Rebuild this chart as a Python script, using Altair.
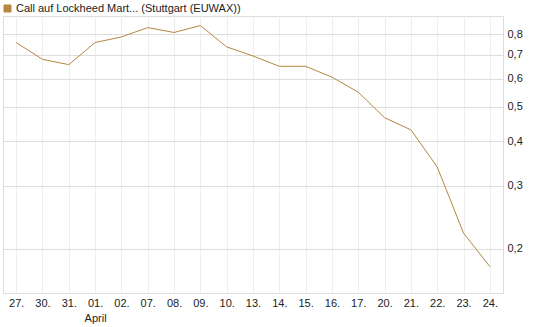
import altair as alt
import pandas as pd

dates = ["27.", "30.", "31.", "01.", "02.", "07.", "08.", "09.", "10.", "13.",
         "14.", "15.", "16.", "17.", "20.", "21.", "22.", "23.", "24."]
values = [0.758, 0.680, 0.657, 0.758, 0.786, 0.835, 0.809, 0.846, 0.737, 0.695,
          0.650, 0.650, 0.606, 0.550, 0.466, 0.431, 0.339, 0.221, 0.178]
series_name = "Call auf Lockheed Mart... (Stuttgart (EUWAX))"
y_ticks = [0.2, 0.3, 0.4, 0.5, 0.6, 0.7, 0.8]

line_color = "#b5873f"
font = "Liberation Sans"

df = pd.DataFrame({"date": dates, "value": values, "series": series_name})

chart = alt.Chart(df).mark_line(strokeWidth=1).encode(
    x=alt.X("date:N", sort=None, title=None,
            scale=alt.Scale(type="point", padding=0.5),
            axis=alt.Axis(labelAngle=0, ticks=False, domain=False,
                          grid=True, gridColor="#eeeeee",
                          labelPadding=4, labelBaseline="top",
                          labelLineHeight=15,
                          labelExpr="datum.value == '01.' ? ['01.', 'April'] : datum.value")),
    y=alt.Y("value:Q", title=None,
            scale=alt.Scale(type="log", domain=[0.15, 0.9], nice=False, zero=False),
            axis=alt.Axis(orient="right", values=y_ticks, ticks=False, domain=False,
                          grid=True, gridColor="#dddddd", format=".1f",
                          labelExpr="replace(datum.label, '.', ',')",
                          labelPadding=4)),
    color=alt.Color("series:N", scale=alt.Scale(range=[line_color]),
                    legend=alt.Legend(orient="none", legendX=-1, legendY=-13,
                                      title=None, symbolType="square",
                                      symbolSize=49, symbolFillColor=line_color,
                                      symbolStrokeColor="#444444",
                                      symbolStrokeWidth=1, padding=0,
                                      labelOffset=3, labelFontSize=11,
                                      labelFont=font, labelColor="#222222",
                                      labelLimit=400)),
).properties(
    width=500, height=277,
    autosize=alt.AutoSizeParams(type="none"),
    padding={"left": 3, "top": 16, "right": 42, "bottom": 34},
).configure_view(
    stroke="#dddddd", strokeWidth=1
).configure_axis(
    labelFont=font, labelFontSize=11, labelColor="#222222"
)

chart.save("out.html", embed_options={"renderer": "svg", "actions": False})
